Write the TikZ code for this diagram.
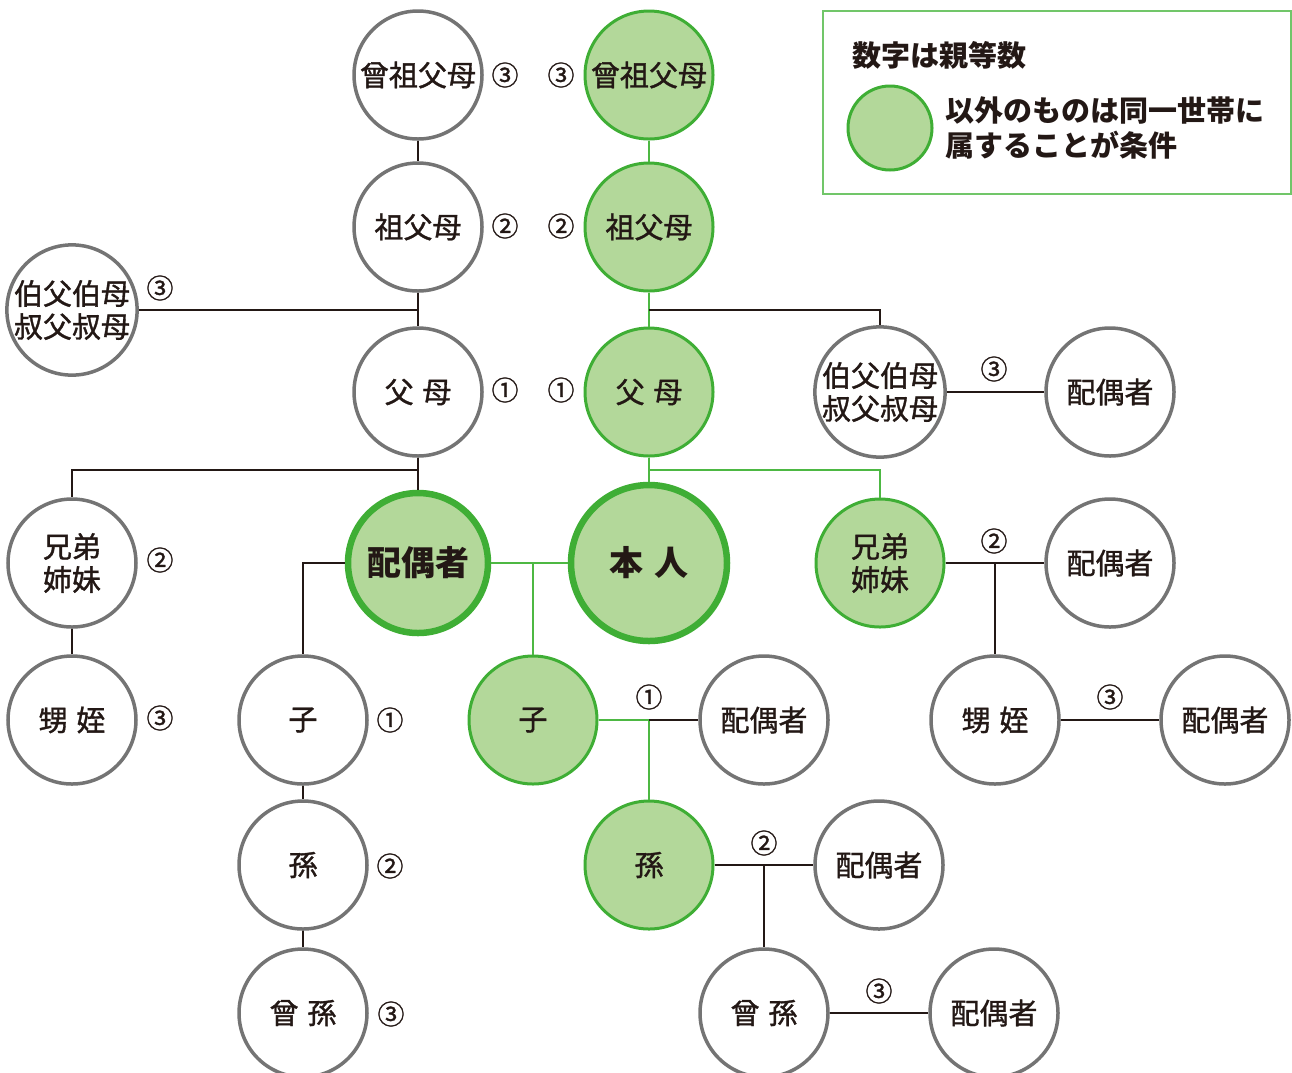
\documentclass[tikz,border=0pt]{standalone}
\usepackage{fontspec}
\newfontfamily\jp{Noto Sans CJK JP}
\newfontfamily\jpm[FakeBold=1.2]{Noto Sans CJK JP}
\definecolor{gfill}{HTML}{B3D89A}
\definecolor{gstroke}{HTML}{3FAE35}
\definecolor{gline}{HTML}{4DB843}
\definecolor{pgray}{HTML}{747474}
\definecolor{ink}{HTML}{231815}
\tikzset{
  base/.style={circle, minimum size=128pt, inner sep=0pt, align=center, text=ink,
    font=\jpm\fontsize{29}{33}\selectfont},
  pnode/.style={base, draw=pgray, line width=3.5pt, fill=white},
  gnode/.style={base, draw=gstroke, line width=3pt, fill=gfill},
  bignode/.style={base, draw=gstroke, line width=6.5pt, fill=gfill, font=\jp\bfseries\fontsize{34}{36}\selectfont},
  lab/.style={text=ink, inner sep=0pt, font=\jpm\fontsize{27}{27}\selectfont},
  bl/.style={draw=ink, line width=2pt},
  gl/.style={draw=gline, line width=2pt},
}
\newcommand{\jsp}{\hspace{0.3em}}
\begin{document}
\begin{tikzpicture}[x=1pt,y=-1pt]
\useasboundingbox (0,0) rectangle (1292,1072);
% nodes
\node[pnode] (ggpL) at (418,75) {曾祖父母};
\node[gnode] (ggpR) at (649,75) {曾祖父母};
\node[pnode] (gpL) at (418,227) {祖父母};
\node[gnode] (gpR) at (649,227) {祖父母};
\node[pnode] (ujL) at (72,310) {伯父伯母\\叔父叔母};
\node[pnode] (pL) at (418,392) {父\jsp 母};
\node[gnode] (pR) at (649,392) {父\jsp 母};
\node[pnode] (ujR) at (880,392) {伯父伯母\\叔父叔母};
\node[pnode] (ujRsp) at (1110,392) {配偶者};
\node[pnode] (sibL) at (72,563) {兄弟\\姉妹};
\node[pnode] (nnL) at (72,720) {甥\jsp 姪};
\node[bignode, minimum size=140pt] (sp) at (418,563) {配偶者};
\node[bignode, minimum size=156pt] (me) at (649,563) {本\jsp 人};
\node[gnode] (sibR) at (880,563) {兄弟\\姉妹};
\node[pnode] (sibRsp) at (1110,563) {配偶者};
\node[pnode] (nnR) at (995,720) {甥\jsp 姪};
\node[pnode] (nnRsp) at (1225,720) {配偶者};
\node[pnode] (cL) at (303,720) {子};
\node[pnode] (gcL) at (303,865) {孫};
\node[pnode] (ggcL) at (303,1013) {曾\jsp 孫};
\node[gnode] (cR) at (533,720) {子};
\node[pnode] (cRsp) at (764,720) {配偶者};
\node[gnode] (gcR) at (649,865) {孫};
\node[pnode] (gcRsp) at (879,865) {配偶者};
\node[pnode] (ggcR) at (764,1013) {曾\jsp 孫};
\node[pnode] (ggcRsp) at (994,1013) {配偶者};
% junction coordinates
\coordinate (jR1) at (649,310);
\coordinate (jL2) at (418,470);
\coordinate (jR2) at (649,470);
\coordinate (jc) at (533,563);
\coordinate (jk) at (649,720);
\coordinate (jg) at (764,865);
\coordinate (js) at (995,563);
% connectors
\draw[bl] (ggpL) -- (gpL);
\draw[gl] (ggpR) -- (gpR);
\draw[bl] (gpL) -- (pL);
\draw[bl] (ujL.east) -- (ujL.east -| gpL.south);
\draw[gl] (gpR) -- (pR);
\draw[bl] (jR1) -| (ujR.north);
\draw[bl] (ujR) -- (ujRsp);
\draw[bl] (pL) -- (sp);
\draw[bl] (jL2) -| (sibL.north);
\draw[bl] (sibL) -- (nnL);
\draw[gl] (pR) -- (me);
\draw[gl] (jR2) -| (sibR.north);
\draw[bl] (sibR) -- (sibRsp);
\draw[bl] (js) -- (nnR.north);
\draw[bl] (nnR) -- (nnRsp);
\draw[bl] (sp.west) -| (cL.north);
\draw[gl] (sp) -- (me);
\draw[gl] (jc) -- (cR.north);
\draw[bl] (cL) -- (gcL);
\draw[bl] (gcL) -- (ggcL);
\draw[gl] (cR.east) -- (jk) -- (gcR.north);
\draw[bl] (jk) -- (cRsp.west);
\draw[bl] (gcR) -- (gcRsp);
\draw[bl] (jg) -- (ggcR.north);
\draw[bl] (ggcR) -- (ggcRsp);
% degree labels
\node[lab] (l1) at (505,75) {③};
\node[lab] (l2) at (561,75) {③};
\node[lab] (l3) at (505,226) {②};
\node[lab] (l4) at (561,226) {②};
\node[lab] (l5) at (505,390) {①};
\node[lab] (l6) at (561,390) {①};
\node[lab] (l7) at (160,288) {③};
\node[lab] (l8) at (994,369) {③};
\node[lab] (l9) at (160,560) {②};
\node[lab] (l10) at (994,541) {②};
\node[lab] (l11) at (160,718) {③};
\node[lab] (l12) at (1110,697) {③};
\node[lab] (l13) at (390,720) {①};
\node[lab] (l14) at (649,697) {①};
\node[lab] (l15) at (390,866) {②};
\node[lab] (l16) at (764,843) {②};
\node[lab] (l17) at (391,1014) {③};
\node[lab] (l18) at (879,991) {③};
% legend
\node[draw=gline!80, line width=1.2pt, minimum width=468pt, minimum height=183pt, inner sep=0pt] (legend) at (1057,102.5) {};
\node[anchor=west, inner sep=0pt, text=ink, font=\jp\bfseries\fontsize{29}{33}\selectfont] (lt1) at (852,55) {数字は親等数};
\node[circle, draw=gstroke, line width=3pt, fill=gfill, minimum size=84pt, inner sep=0pt] (lc) at (890,128) {};
\node[anchor=west, inner sep=0pt, align=left, text=ink, font=\jp\bfseries\fontsize{29}{35}\selectfont] (lt2) at (945,128) {以外のものは同一世帯に\\属することが条件};
\end{tikzpicture}
\end{document}
